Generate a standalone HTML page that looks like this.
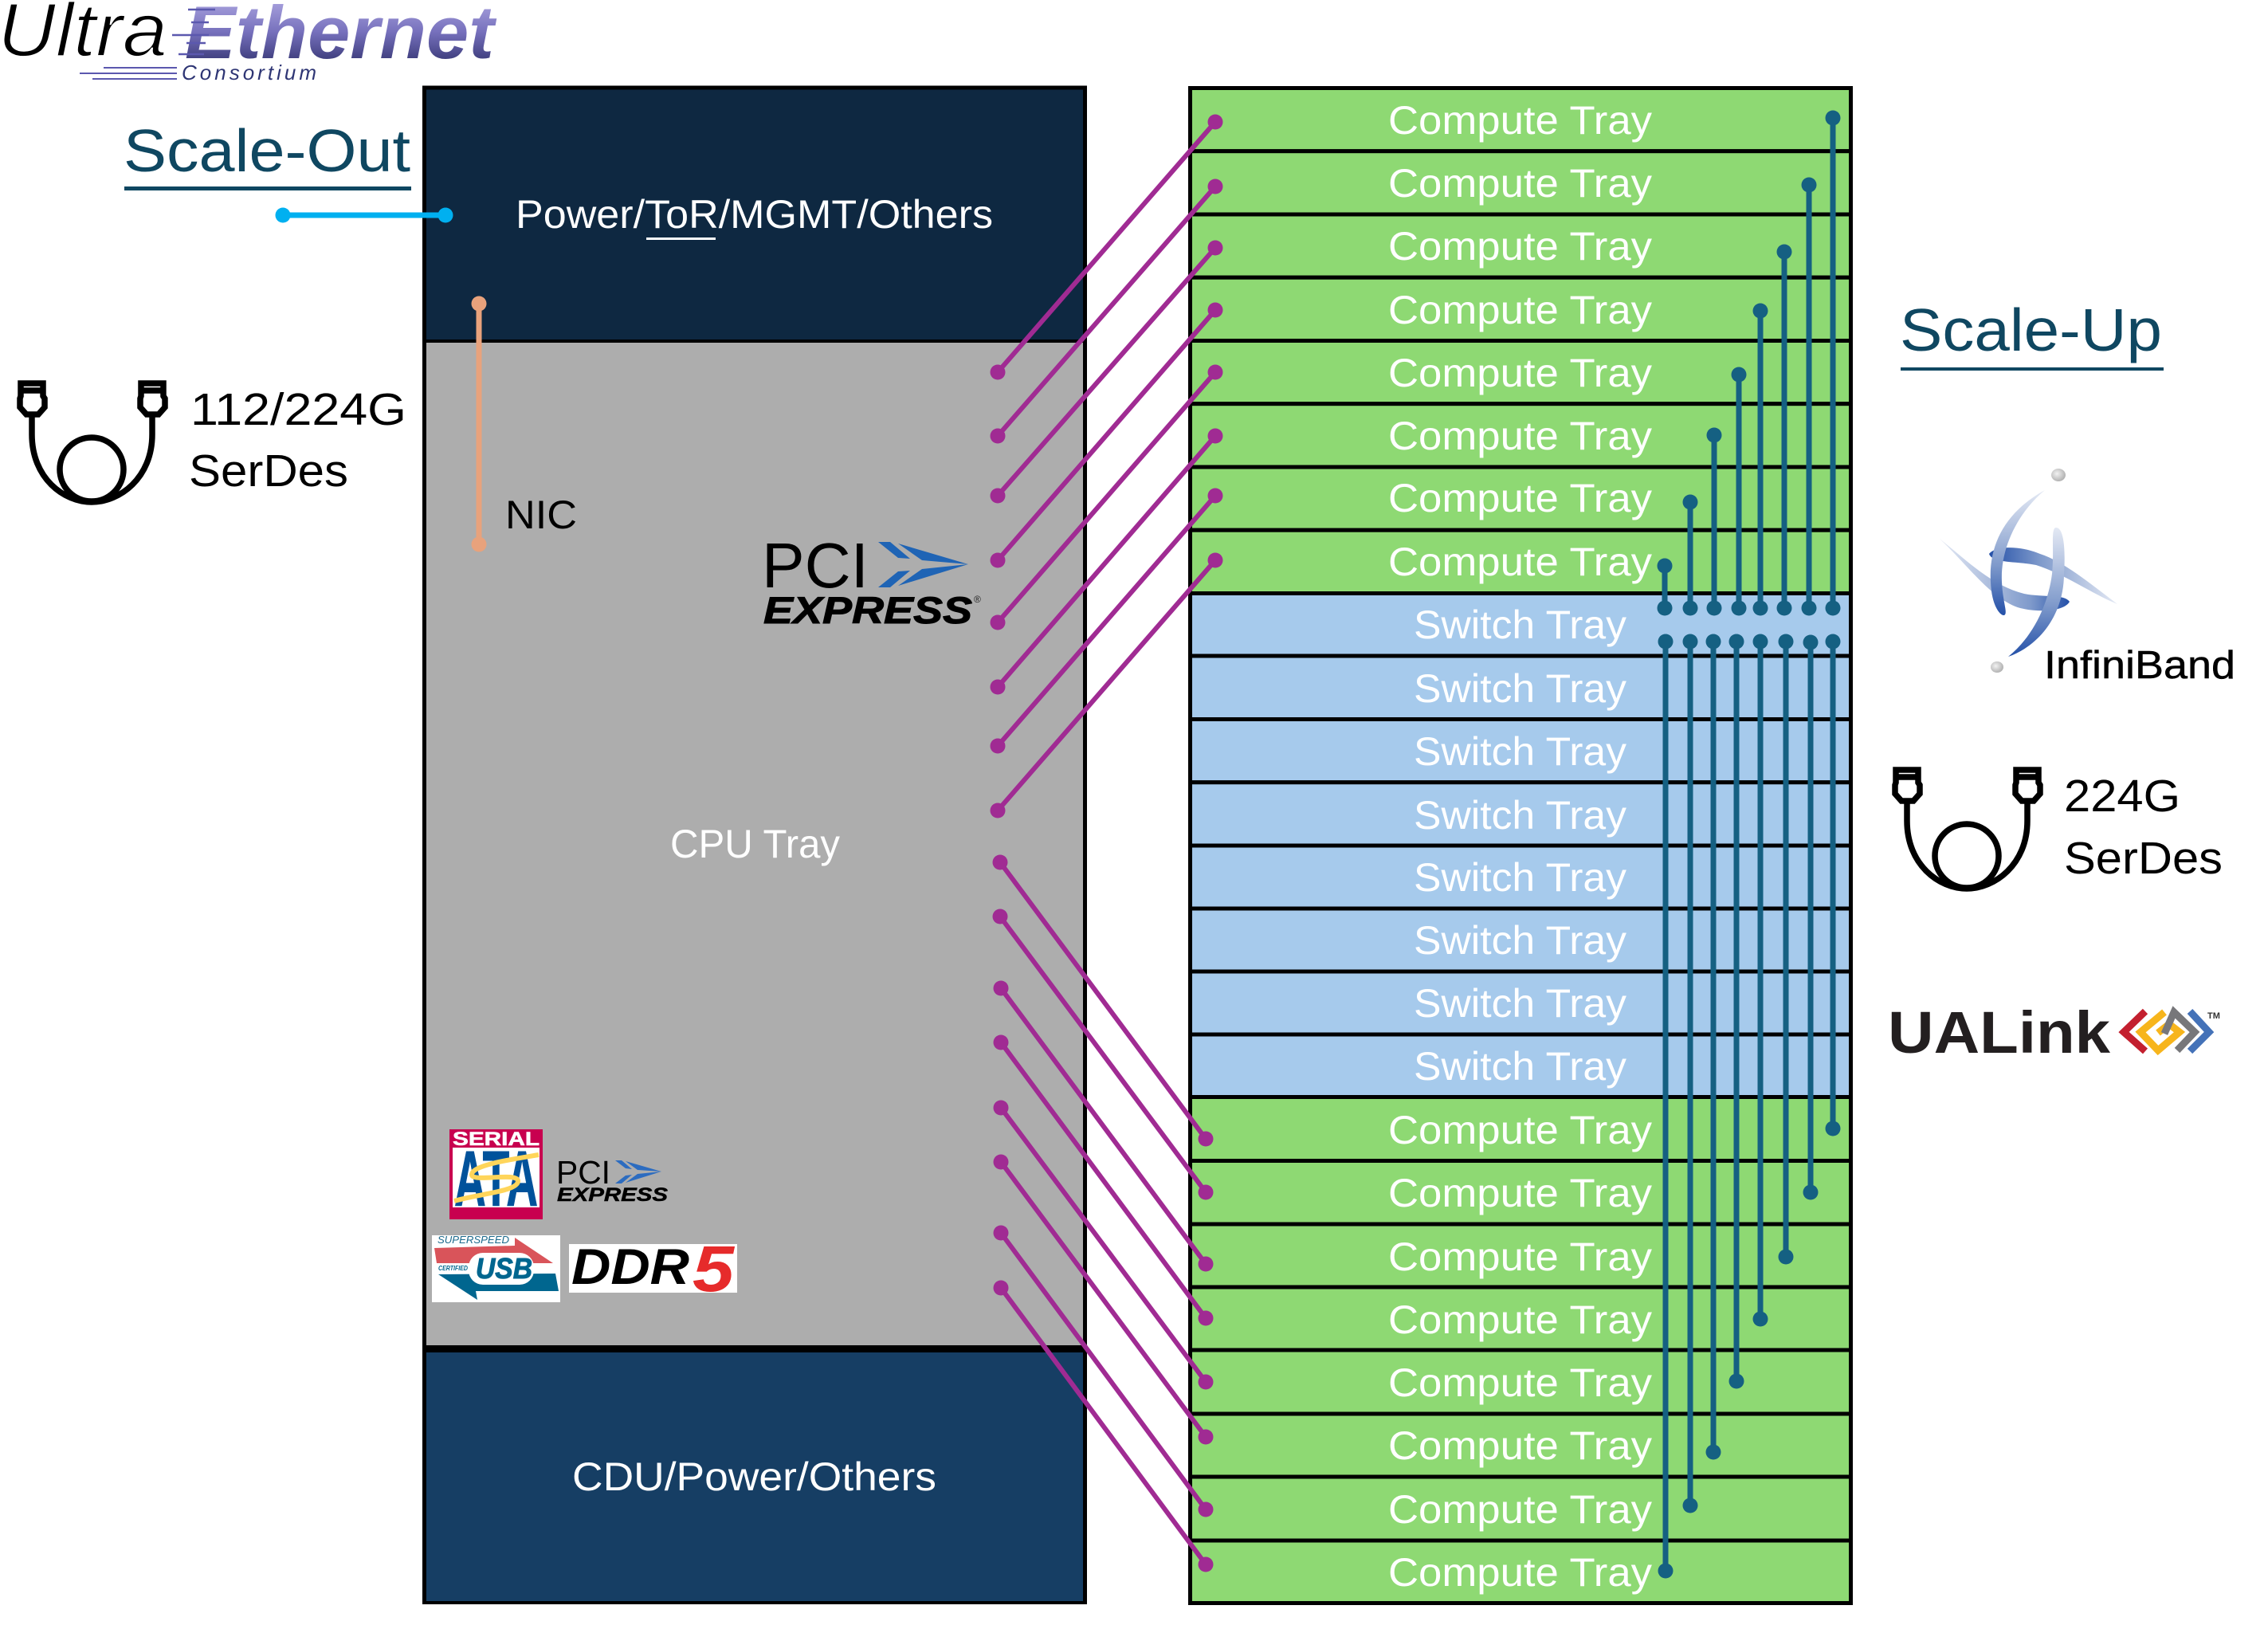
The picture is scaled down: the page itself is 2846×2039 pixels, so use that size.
<!DOCTYPE html>
<html><head><meta charset="utf-8"><title>Ultra Ethernet Scale-Up and Scale-Out</title>
<style>html,body{margin:0;padding:0;background:#fff}svg{display:block}text{font-family:"Liberation Sans",sans-serif}</style></head>
<body>
<svg xmlns="http://www.w3.org/2000/svg" width="2846" height="2039" viewBox="0 0 2846 2039">
<defs>
<linearGradient id="eth" x1="0" y1="0" x2="0" y2="1"><stop offset="0" stop-color="#B8B1E8"/><stop offset=".5" stop-color="#7670BC"/><stop offset="1" stop-color="#23265F"/></linearGradient>
<linearGradient id="ib1" x1="0" y1="0" x2="0" y2="1"><stop offset="0" stop-color="#E4E9F4"/><stop offset=".6" stop-color="#7F9ACB"/><stop offset="1" stop-color="#2450A8"/></linearGradient>
<linearGradient id="ib2" x1="0" y1="0" x2="1" y2="0"><stop offset="0" stop-color="#E4E9F4"/><stop offset=".7" stop-color="#7F9ACB"/><stop offset="1" stop-color="#2450A8"/></linearGradient>
<linearGradient id="ib3" x1="1" y1="0" x2="0" y2="0"><stop offset="0" stop-color="#E4E9F4"/><stop offset=".6" stop-color="#7F9ACB"/><stop offset="1" stop-color="#2450A8"/></linearGradient>
<radialGradient id="ball" cx=".4" cy=".4" r=".7"><stop offset="0" stop-color="#F2F2F2"/><stop offset="1" stop-color="#A8A8A8"/></radialGradient>
</defs>
<rect width="2846" height="2039" fill="#fff"/>

<!-- Ultra Ethernet logo -->
<text x="-3" y="70" font-size="95" font-style="italic" textLength="213" lengthAdjust="spacingAndGlyphs" fill="#000" stroke="#fff" stroke-width="1.8">Ultra</text>
<text x="232" y="73" font-size="94" font-weight="bold" font-style="italic" textLength="388" lengthAdjust="spacingAndGlyphs" fill="url(#eth)">Ethernet</text>
<g stroke="#5B58AE" stroke-width="2.5"><line x1="236" y1="12" x2="270" y2="12"/><line x1="240" y1="28" x2="262" y2="28"/><line x1="216" y1="44" x2="262" y2="44"/><line x1="234" y1="54" x2="258" y2="54"/><line x1="224" y1="68" x2="256" y2="68"/></g>
<g stroke="#5B58AE" stroke-width="2"><line x1="130" y1="85" x2="222" y2="85"/><line x1="100" y1="92" x2="222" y2="92"/><line x1="116" y1="99" x2="222" y2="99"/></g>
<text x="228" y="100" font-size="26" font-style="italic" textLength="169" lengthAdjust="spacing" fill="#2E3574">Consortium</text>

<!-- Scale-Out -->
<text x="155" y="215" font-size="75" textLength="360" lengthAdjust="spacingAndGlyphs" fill="#0F4761">Scale-Out</text>
<rect x="156" y="234" width="360" height="5" fill="#0F4761"/>

<!-- left cable -->
<g fill="none" stroke="#000" stroke-width="7.5">
<path d="M40,520 V545 C40,600 80,630 115,630 C150,630 191,600 191,545 V520"/>
<ellipse cx="115" cy="589" rx="40" ry="40"/>
<path d="M26,481 H54 V497 L56,500 V511 L48,520 H33 L25,511 V500 L26,497 Z M26,490 H54"/>
<path d="M177,481 H205 V497 L207,500 V511 L199,520 H184 L176,511 V500 L177,497 Z M177,490 H205"/>
</g>
<text x="239" y="533" font-size="57" textLength="271" lengthAdjust="spacingAndGlyphs" fill="#000">112/224G</text>
<text x="237" y="610" font-size="57" textLength="200" lengthAdjust="spacingAndGlyphs" fill="#000">SerDes</text>

<!-- left panel -->
<rect x="532.5" y="110" width="829" height="1901" fill="#000"/>
<rect x="535" y="112.5" width="824" height="313.5" fill="#0E2841"/>
<rect x="535" y="430" width="824" height="1258" fill="#ADADAD"/>
<rect x="535" y="1697" width="824" height="312" fill="#163E64"/>
<rect x="530" y="107.5" width="834" height="5" fill="#000"/><rect x="530" y="107.5" width="5" height="1905.5" fill="#000"/><rect x="1359" y="107.5" width="5" height="1905.5" fill="#000"/><rect x="530" y="2009" width="834" height="4" fill="#000"/>

<text x="647" y="286" font-size="50" textLength="599" lengthAdjust="spacingAndGlyphs" fill="#fff">Power/ToR/MGMT/Others</text>
<rect x="811" y="298" width="87" height="3" fill="#fff"/>
<text x="841" y="1076" font-size="50" textLength="213" lengthAdjust="spacingAndGlyphs" fill="#fff">CPU Tray</text>
<text x="718" y="1870" font-size="50" textLength="457" lengthAdjust="spacingAndGlyphs" fill="#fff">CDU/Power/Others</text>
<text x="634" y="663" font-size="50" textLength="90" lengthAdjust="spacingAndGlyphs" fill="#000">NIC</text>

<!-- PCI Express large -->
<g>
<text x="956" y="737" font-size="80" textLength="134" lengthAdjust="spacingAndGlyphs" fill="#000">PCI</text>
<text x="958" y="782" font-size="47" font-weight="bold" font-style="italic" textLength="262" lengthAdjust="spacingAndGlyphs" fill="#000" stroke="#000" stroke-width="1">EXPRESS</text>
<text x="1222" y="756" font-size="12" fill="#222">®</text>
<g fill="#1F64B5"><polygon points="1102,680 1117,680 1142,701 1127,700"/><polygon points="1127,682 1215,708 1157,703"/><polygon points="1102,737 1117,737 1142,716 1127,717"/><polygon points="1127,735 1215,708 1157,714"/></g>
</g>

<!-- Small badges -->
<rect x="564" y="1417" width="117" height="113" fill="#C8004F"/>
<rect x="568" y="1440" width="109" height="75" fill="#fff"/>
<text x="568" y="1437" font-size="24" font-weight="bold" textLength="109" lengthAdjust="spacingAndGlyphs" fill="#fff" stroke="#fff" stroke-width=".6">SERIAL</text>
<text x="570" y="1513" font-size="98" font-weight="bold" textLength="105" lengthAdjust="spacingAndGlyphs" fill="#00529B" stroke="#00529B" stroke-width="1">ATA</text>
<path d="M676,1449 C640,1455 592,1462 592,1474 C592,1484 650,1470 650,1482 C650,1495 600,1498 570,1507" fill="none" stroke="#FFD55A" stroke-width="6"/>

<g>
<text x="698" y="1485" font-size="41" textLength="68" lengthAdjust="spacingAndGlyphs" fill="#000">PCI</text>
<text x="699" y="1507" font-size="24" font-weight="bold" font-style="italic" textLength="139" lengthAdjust="spacingAndGlyphs" fill="#000" stroke="#000" stroke-width=".5">EXPRESS</text>
<g fill="#2C6CC0"><polygon points="772,1456 780,1456 793,1467 785,1466"/><polygon points="785,1457 830,1470 800,1468"/><polygon points="772,1485 780,1485 793,1474 785,1475"/><polygon points="785,1484 830,1470 800,1473"/></g>
</g>

<rect x="542" y="1550" width="161" height="84" fill="#fff"/>
<text x="549" y="1560" font-size="13" font-style="italic" textLength="90" lengthAdjust="spacingAndGlyphs" fill="#1C6A8C">SUPERSPEED</text>
<polygon points="545,1566 646,1563 646,1553 694,1585 548,1585" fill="#D9545A"/>
<polygon points="550,1599 697,1598 701,1620 597,1620 599,1631" fill="#00668F"/>
<rect x="588" y="1572" width="82" height="40" rx="18" fill="#fff"/>
<text x="597" y="1604" font-size="36" font-weight="bold" font-style="italic" textLength="71" lengthAdjust="spacingAndGlyphs" fill="#00668F" stroke="#00668F" stroke-width="1">USB</text>
<text x="550" y="1594" font-size="8" font-weight="bold" font-style="italic" textLength="37" lengthAdjust="spacingAndGlyphs" fill="#00668F">CERTIFIED</text>

<rect x="714" y="1561" width="211" height="61" fill="#fff"/>
<text x="717" y="1611" font-size="63" font-weight="bold" font-style="italic" textLength="148" lengthAdjust="spacingAndGlyphs" fill="#000">DDR</text>
<text x="869" y="1620" font-size="82" font-weight="bold" font-style="italic" textLength="52" lengthAdjust="spacingAndGlyphs" fill="#E62B2B">5</text>

<!-- right trays -->
<g stroke="#000" stroke-width="5">
<rect x="1493.5" y="110.5" width="829" height="79.2" fill="#8ED973"/>
<rect x="1493.5" y="189.7" width="829" height="79.3" fill="#8ED973"/>
<rect x="1493.5" y="269" width="829" height="79.2" fill="#8ED973"/>
<rect x="1493.5" y="348.2" width="829" height="79.3" fill="#8ED973"/>
<rect x="1493.5" y="427.5" width="829" height="79.2" fill="#8ED973"/>
<rect x="1493.5" y="506.7" width="829" height="79.3" fill="#8ED973"/>
<rect x="1493.5" y="586" width="829" height="79.2" fill="#8ED973"/>
<rect x="1493.5" y="665.2" width="829" height="79.3" fill="#8ED973"/>
<rect x="1493.5" y="744.5" width="829" height="78.5" fill="#A6CAEC"/>
<rect x="1493.5" y="823" width="829" height="79.5" fill="#A6CAEC"/>
<rect x="1493.5" y="902.5" width="829" height="79.2" fill="#A6CAEC"/>
<rect x="1493.5" y="981.7" width="829" height="79.3" fill="#A6CAEC"/>
<rect x="1493.5" y="1061" width="829" height="79" fill="#A6CAEC"/>
<rect x="1493.5" y="1140" width="829" height="79" fill="#A6CAEC"/>
<rect x="1493.5" y="1219" width="829" height="79" fill="#A6CAEC"/>
<rect x="1493.5" y="1298" width="829" height="78.5" fill="#A6CAEC"/>
<rect x="1493.5" y="1376.5" width="829" height="80" fill="#8ED973"/>
<rect x="1493.5" y="1456.5" width="829" height="79.5" fill="#8ED973"/>
<rect x="1493.5" y="1536" width="829" height="79" fill="#8ED973"/>
<rect x="1493.5" y="1615" width="829" height="79" fill="#8ED973"/>
<rect x="1493.5" y="1694" width="829" height="80" fill="#8ED973"/>
<rect x="1493.5" y="1774" width="829" height="79" fill="#8ED973"/>
<rect x="1493.5" y="1853" width="829" height="80" fill="#8ED973"/>
<rect x="1493.5" y="1933" width="829" height="78.5" fill="#8ED973"/>
</g>

<g fill="#fff" font-size="50">
<text x="1742" y="168" textLength="331" lengthAdjust="spacingAndGlyphs">Compute Tray</text>
<text x="1742" y="247" textLength="331" lengthAdjust="spacingAndGlyphs">Compute Tray</text>
<text x="1742" y="326" textLength="331" lengthAdjust="spacingAndGlyphs">Compute Tray</text>
<text x="1742" y="406" textLength="331" lengthAdjust="spacingAndGlyphs">Compute Tray</text>
<text x="1742" y="485" textLength="331" lengthAdjust="spacingAndGlyphs">Compute Tray</text>
<text x="1742" y="564" textLength="331" lengthAdjust="spacingAndGlyphs">Compute Tray</text>
<text x="1742" y="642" textLength="331" lengthAdjust="spacingAndGlyphs">Compute Tray</text>
<text x="1742" y="722" textLength="331" lengthAdjust="spacingAndGlyphs">Compute Tray</text>
<text x="1774" y="801" textLength="267" lengthAdjust="spacingAndGlyphs">Switch Tray</text>
<text x="1774" y="881" textLength="267" lengthAdjust="spacingAndGlyphs">Switch Tray</text>
<text x="1774" y="960" textLength="267" lengthAdjust="spacingAndGlyphs">Switch Tray</text>
<text x="1774" y="1040" textLength="267" lengthAdjust="spacingAndGlyphs">Switch Tray</text>
<text x="1774" y="1118" textLength="267" lengthAdjust="spacingAndGlyphs">Switch Tray</text>
<text x="1774" y="1197" textLength="267" lengthAdjust="spacingAndGlyphs">Switch Tray</text>
<text x="1774" y="1276" textLength="267" lengthAdjust="spacingAndGlyphs">Switch Tray</text>
<text x="1774" y="1355" textLength="267" lengthAdjust="spacingAndGlyphs">Switch Tray</text>
<text x="1742" y="1435" textLength="331" lengthAdjust="spacingAndGlyphs">Compute Tray</text>
<text x="1742" y="1514" textLength="331" lengthAdjust="spacingAndGlyphs">Compute Tray</text>
<text x="1742" y="1594" textLength="331" lengthAdjust="spacingAndGlyphs">Compute Tray</text>
<text x="1742" y="1673" textLength="331" lengthAdjust="spacingAndGlyphs">Compute Tray</text>
<text x="1742" y="1752" textLength="331" lengthAdjust="spacingAndGlyphs">Compute Tray</text>
<text x="1742" y="1831" textLength="331" lengthAdjust="spacingAndGlyphs">Compute Tray</text>
<text x="1742" y="1911" textLength="331" lengthAdjust="spacingAndGlyphs">Compute Tray</text>
<text x="1742" y="1990" textLength="331" lengthAdjust="spacingAndGlyphs">Compute Tray</text>
</g>

<!-- purple connectors -->
<g stroke="#A02B93" stroke-width="6">
<line x1="1252" y1="467" x2="1525" y2="153"/><line x1="1252" y1="547" x2="1525" y2="234"/><line x1="1252" y1="622" x2="1525" y2="311"/><line x1="1252" y1="703" x2="1525" y2="389"/><line x1="1252" y1="781" x2="1525" y2="467"/><line x1="1252" y1="862" x2="1525" y2="547"/><line x1="1252" y1="936" x2="1525" y2="622"/><line x1="1252" y1="1017" x2="1525" y2="703"/>
<line x1="1255" y1="1082" x2="1513" y2="1429"/><line x1="1255" y1="1150" x2="1513" y2="1496"/><line x1="1256" y1="1240" x2="1513" y2="1586"/><line x1="1256" y1="1308" x2="1513" y2="1654"/><line x1="1256" y1="1390" x2="1513" y2="1734"/><line x1="1256" y1="1458" x2="1513" y2="1803"/><line x1="1256" y1="1547" x2="1513" y2="1894"/><line x1="1256" y1="1616" x2="1513" y2="1963"/>
</g>
<g fill="#A02B93">
<circle cx="1252" cy="467" r="9.5"/><circle cx="1525" cy="153" r="9.5"/><circle cx="1252" cy="547" r="9.5"/><circle cx="1525" cy="234" r="9.5"/><circle cx="1252" cy="622" r="9.5"/><circle cx="1525" cy="311" r="9.5"/><circle cx="1252" cy="703" r="9.5"/><circle cx="1525" cy="389" r="9.5"/><circle cx="1252" cy="781" r="9.5"/><circle cx="1525" cy="467" r="9.5"/><circle cx="1252" cy="862" r="9.5"/><circle cx="1525" cy="547" r="9.5"/><circle cx="1252" cy="936" r="9.5"/><circle cx="1525" cy="622" r="9.5"/><circle cx="1252" cy="1017" r="9.5"/><circle cx="1525" cy="703" r="9.5"/>
<circle cx="1255" cy="1082" r="9.5"/><circle cx="1513" cy="1429" r="9.5"/><circle cx="1255" cy="1150" r="9.5"/><circle cx="1513" cy="1496" r="9.5"/><circle cx="1256" cy="1240" r="9.5"/><circle cx="1513" cy="1586" r="9.5"/><circle cx="1256" cy="1308" r="9.5"/><circle cx="1513" cy="1654" r="9.5"/><circle cx="1256" cy="1390" r="9.5"/><circle cx="1513" cy="1734" r="9.5"/><circle cx="1256" cy="1458" r="9.5"/><circle cx="1513" cy="1803" r="9.5"/><circle cx="1256" cy="1547" r="9.5"/><circle cx="1513" cy="1894" r="9.5"/><circle cx="1256" cy="1616" r="9.5"/><circle cx="1513" cy="1963" r="9.5"/>
</g>

<!-- teal connectors -->
<g stroke="#156082" stroke-width="7">
<line x1="2300" y1="148" x2="2300" y2="763"/><line x1="2270" y1="232" x2="2270" y2="763"/><line x1="2239" y1="316" x2="2239" y2="763"/><line x1="2209" y1="390" x2="2209" y2="763"/><line x1="2182" y1="470" x2="2182" y2="763"/><line x1="2151" y1="546" x2="2151" y2="763"/><line x1="2121" y1="630" x2="2121" y2="763"/><line x1="2089" y1="710" x2="2089" y2="763"/>
<line x1="2300" y1="805" x2="2300" y2="1416"/><line x1="2272" y1="805" x2="2272" y2="1496"/><line x1="2241" y1="805" x2="2241" y2="1577"/><line x1="2209" y1="805" x2="2209" y2="1655"/><line x1="2179" y1="805" x2="2179" y2="1733"/><line x1="2150" y1="805" x2="2150" y2="1822"/><line x1="2121" y1="805" x2="2121" y2="1889"/><line x1="2090" y1="805" x2="2090" y2="1971"/>
</g>
<g fill="#156082">
<circle cx="2300" cy="148" r="9.5"/><circle cx="2270" cy="232" r="9.5"/><circle cx="2239" cy="316" r="9.5"/><circle cx="2209" cy="390" r="9.5"/><circle cx="2182" cy="470" r="9.5"/><circle cx="2151" cy="546" r="9.5"/><circle cx="2121" cy="630" r="9.5"/><circle cx="2089" cy="710" r="9.5"/>
<circle cx="2300" cy="763" r="9.5"/><circle cx="2270" cy="763" r="9.5"/><circle cx="2239" cy="763" r="9.5"/><circle cx="2209" cy="763" r="9.5"/><circle cx="2182" cy="763" r="9.5"/><circle cx="2151" cy="763" r="9.5"/><circle cx="2121" cy="763" r="9.5"/><circle cx="2089" cy="763" r="9.5"/>
<circle cx="2300" cy="805" r="9.5"/><circle cx="2272" cy="806" r="9.5"/><circle cx="2241" cy="805" r="9.5"/><circle cx="2209" cy="805" r="9.5"/><circle cx="2179" cy="805" r="9.5"/><circle cx="2150" cy="805" r="9.5"/><circle cx="2121" cy="805" r="9.5"/><circle cx="2090" cy="805" r="9.5"/>
<circle cx="2300" cy="1416" r="9.5"/><circle cx="2272" cy="1496" r="9.5"/><circle cx="2241" cy="1577" r="9.5"/><circle cx="2209" cy="1655" r="9.5"/><circle cx="2179" cy="1733" r="9.5"/><circle cx="2150" cy="1822" r="9.5"/><circle cx="2121" cy="1889" r="9.5"/><circle cx="2090" cy="1971" r="9.5"/>
</g>

<!-- cyan / salmon connectors -->
<line x1="355" y1="270" x2="559" y2="270" stroke="#00B0F0" stroke-width="7"/>
<circle cx="355" cy="270" r="9.5" fill="#00B0F0"/><circle cx="559" cy="270" r="9.5" fill="#00B0F0"/>
<line x1="601" y1="381" x2="601" y2="683" stroke="#E8A27C" stroke-width="7"/>
<circle cx="601" cy="381" r="9.5" fill="#E8A27C"/><circle cx="601" cy="683" r="9.5" fill="#E8A27C"/>

<!-- Scale-Up -->
<text x="2384" y="440" font-size="75" textLength="329" lengthAdjust="spacingAndGlyphs" fill="#0F4761">Scale-Up</text>
<rect x="2385" y="461" width="330" height="4" fill="#0F4761"/>

<!-- InfiniBand logo -->
<ellipse cx="2583" cy="596" rx="9" ry="8" fill="url(#ball)"/>
<ellipse cx="2506" cy="837" rx="8" ry="7" fill="url(#ball)"/>
<path d="M2657,758 C2620,730 2590,705 2560,695 C2540,686 2505,683 2496,695 C2500,707 2530,704 2555,709 C2590,720 2625,745 2657,758Z" fill="url(#ib3)"/>
<path d="M2434,676 C2470,705 2500,735 2540,745 C2565,750 2590,745 2597,755 C2590,767 2560,769 2535,763 C2500,753 2470,710 2434,676Z" fill="url(#ib2)"/>
<path d="M2566,615 C2520,640 2495,680 2498,730 C2499,760 2510,773 2515,772 C2520,770 2513,755 2512,730 C2510,690 2530,645 2566,615Z" fill="url(#ib1)"/>
<path d="M2520,824 C2560,810 2590,770 2590,720 C2592,690 2590,662 2580,662 C2573,662 2578,690 2575,720 C2570,760 2550,800 2520,824Z" fill="url(#ib1)"/>
<text x="2565" y="851" font-size="49" textLength="240" lengthAdjust="spacingAndGlyphs" fill="#000" stroke="#000" stroke-width=".5">InfiniBand</text>

<!-- right cable -->
<g transform="translate(2353,485)" fill="none" stroke="#000" stroke-width="7.5">
<path d="M40,520 V545 C40,600 80,630 115,630 C150,630 191,600 191,545 V520"/>
<ellipse cx="115" cy="589" rx="40" ry="40"/>
<path d="M26,481 H54 V497 L56,500 V511 L48,520 H33 L25,511 V500 L26,497 Z M26,490 H54"/>
<path d="M177,481 H205 V497 L207,500 V511 L199,520 H184 L176,511 V500 L177,497 Z M177,490 H205"/>
</g>
<text x="2590" y="1018" font-size="57" textLength="146" lengthAdjust="spacingAndGlyphs" fill="#000">224G</text>
<text x="2590" y="1096" font-size="57" textLength="199" lengthAdjust="spacingAndGlyphs" fill="#000">SerDes</text>

<!-- UALink -->
<text x="2369" y="1321" font-size="74" font-weight="bold" textLength="279" lengthAdjust="spacingAndGlyphs" fill="#231F20">UALink</text>
<g fill="none" stroke-width="9" stroke-miterlimit="10">
<polyline points="2692,1269 2665,1295 2692,1319" stroke="#C3202F"/>
<polyline points="2716,1270 2686,1295 2708,1318 2735,1295 2722,1285 2708,1296" stroke="#F7B51C"/>
<polyline points="2716,1297 2728,1270 2754,1295 2732,1318" stroke="#77777A"/>
<polyline points="2748,1269 2772,1295 2748,1319" stroke="#4472B8"/>
</g>
<text x="2770" y="1278" font-size="11" font-weight="bold" fill="#333">TM</text>
</svg>
</body></html>
